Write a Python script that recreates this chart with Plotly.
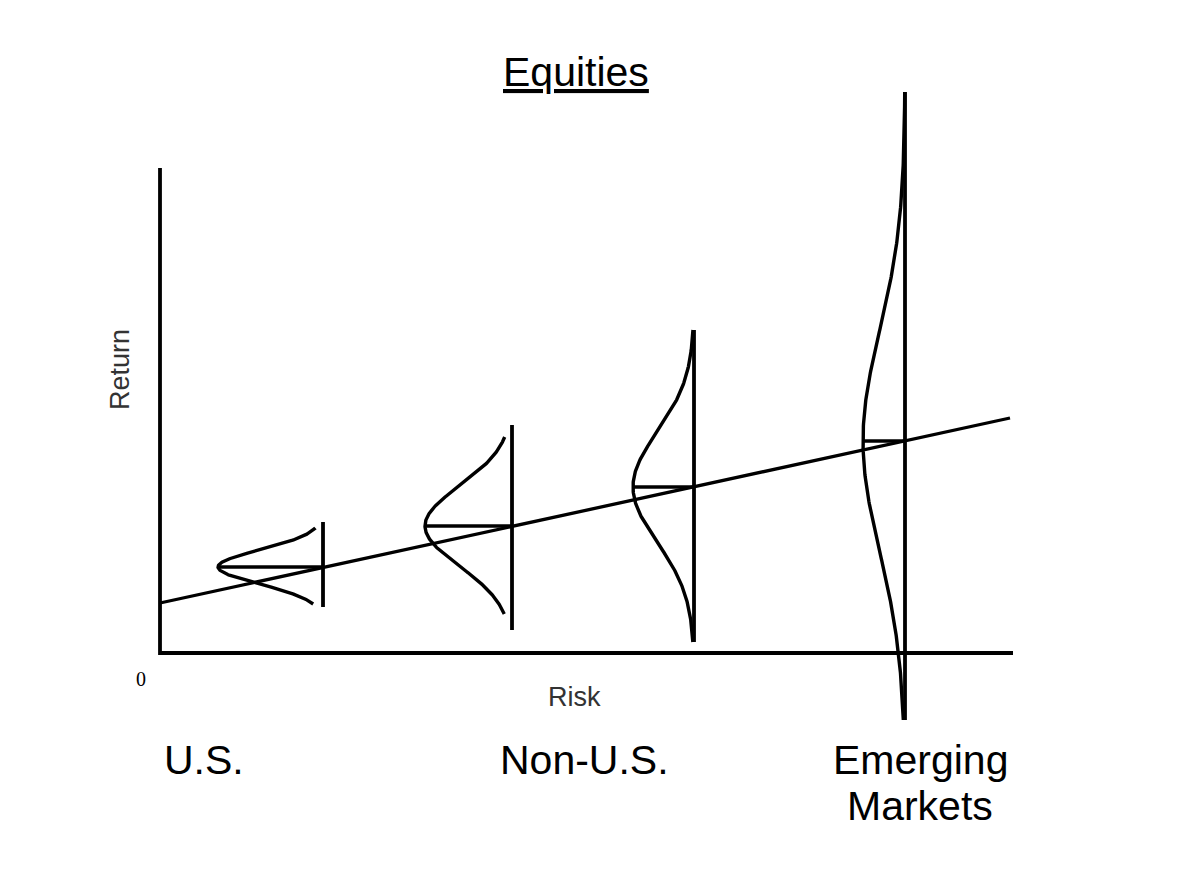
import numpy as np
import plotly.graph_objects as go

# ---- data (chart units: risk on x, return on y) ----
risk = [1.63, 3.52, 5.34, 7.45]            # position of each distribution's baseline
mean_return = [0.86, 1.27, 1.66, 2.12]     # expected return (centre of each bell)
spread = [0.17, 0.40, 0.55, 1.10]          # standard deviation of each bell
peak = [1.05, 0.87, 0.61, 0.42]            # height of each bell (drawn sideways)
line_top = [1.31, 2.28, 3.23, 5.61]
line_bottom = [0.46, 0.23, 0.11, -0.67]
curve_top = [1.25, 2.16, 3.23, 5.61]
curve_bottom = [0.49, 0.39, 0.11, -0.67]

trend_risk = [0.0, 8.5]
trend_return = [0.50, 2.35]

axis_x_max = 8.53
axis_y_max = 4.85

labels = [["U.S."], ["Non-U.S."], ["Emerging", "Markets"]]
label_x = [0.44, 4.24, 7.60]

title = "Equities"

fig = go.Figure()
K = "#000000"

# axes
fig.add_trace(go.Scatter(x=[0, 0, axis_x_max], y=[axis_y_max, 0, 0], mode="lines",
                         line=dict(color=K, width=3.8), hoverinfo="skip"))
# trend line
fig.add_trace(go.Scatter(x=trend_risk, y=trend_return, mode="lines",
                         line=dict(color=K, width=3.3), hoverinfo="skip"))

for r, m, s, p, lt, lb, ct, cb in zip(risk, mean_return, spread, peak,
                                       line_top, line_bottom, curve_top, curve_bottom):
    yy = np.linspace(cb, ct, 300)
    xx = r - p * np.exp(-0.5 * ((yy - m) / s) ** 2)
    fig.add_trace(go.Scatter(x=xx, y=yy, mode="lines", line=dict(color=K, width=3.4),
                             hoverinfo="skip"))
    fig.add_trace(go.Scatter(x=[r, r], y=[lb, lt], mode="lines", line=dict(color=K, width=3.8),
                             hoverinfo="skip"))
    fig.add_trace(go.Scatter(x=[r - p, r], y=[m, m], mode="lines", line=dict(color=K, width=3.3),
                             hoverinfo="skip"))

SANS = "Liberation Sans, Arial, sans-serif"
ann = []
ann.append(dict(x=4.16, y=5.81, text="<u>" + title + "</u>", showarrow=False,
                font=dict(family=SANS, size=41, color=K), xanchor="center", yanchor="middle"))
ann.append(dict(x=4.14, y=-0.44, text="Risk", showarrow=False,
                font=dict(family=SANS, size=27, color="#333333"), xanchor="center", yanchor="middle"))
ann.append(dict(x=-0.40, y=2.83, text="Return", showarrow=False, textangle=-90,
                font=dict(family=SANS, size=27, color="#333333"), xanchor="center", yanchor="middle"))
ann.append(dict(x=-0.19, y=-0.26, text="0", showarrow=False,
                font=dict(family="Liberation Serif, Times New Roman, serif", size=20, color=K),
                xanchor="center", yanchor="middle"))
for lines, lx in zip(labels, label_x):
    for i, t in enumerate(lines):
        ann.append(dict(x=lx, y=-1.07 - 0.46 * i, text=t, showarrow=False,
                        font=dict(family=SANS, size=41, color=K),
                        xanchor="center", yanchor="middle"))

# the page body has an 8px margin, so the ranges are offset to compensate
fig.update_layout(
    width=1200, height=894,
    margin=dict(l=0, r=0, t=0, b=0),
    paper_bgcolor="white", plot_bgcolor="white",
    showlegend=False,
    xaxis=dict(range=[-1.52, 10.48], visible=False, fixedrange=True),
    yaxis=dict(range=[-2.49, 6.45], visible=False, fixedrange=True),
    annotations=ann,
)

fig.write_html("out.html")
